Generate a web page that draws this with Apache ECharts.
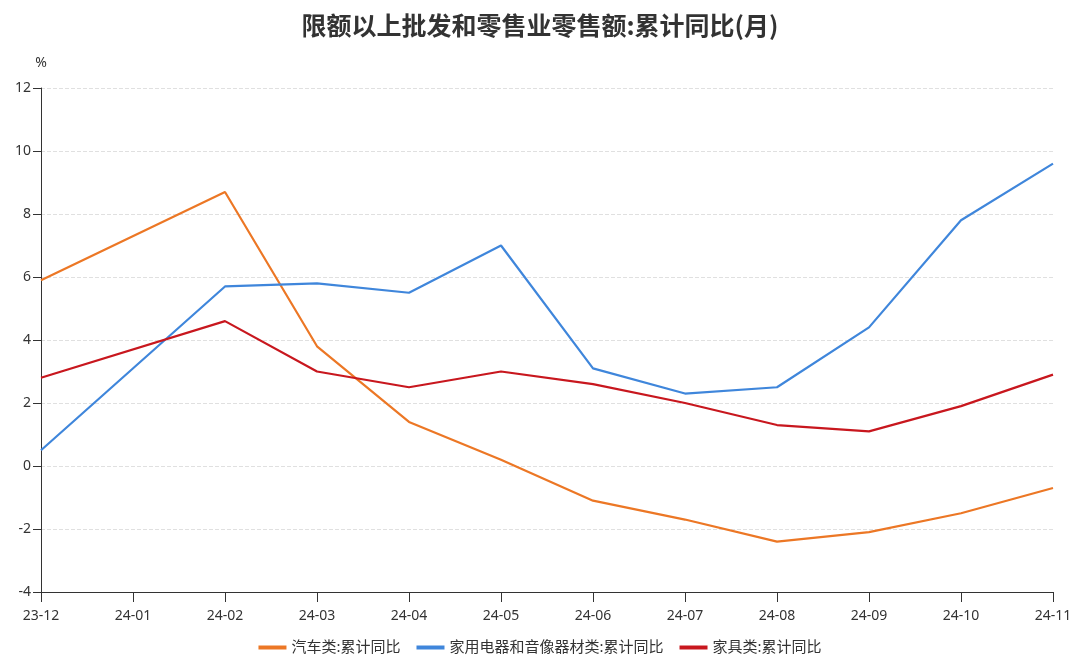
<!DOCTYPE html>
<html>
<head>
<meta charset="utf-8">
<script src="https://cdn.jsdelivr.net/npm/echarts@6/dist/echarts.min.js"></script>
<style>html,body{margin:0;padding:0;background:#fff}#c{width:1080px;height:662px}</style>
</head>
<body>
<div id="c"></div>
<script>
const categories = ['23-12','24-01','24-02','24-03','24-04','24-05','24-06','24-07','24-08','24-09','24-10','24-11'];
const autoValues = [5.9, null, 8.7, 3.8, 1.4, 0.2, -1.1, -1.7, -2.4, -2.1, -1.5, -0.7];
const applianceValues = [0.5, null, 5.7, 5.8, 5.5, 7.0, 3.1, 2.3, 2.5, 4.4, 7.8, 9.6];
const furnitureValues = [2.8, null, 4.6, 3.0, 2.5, 3.0, 2.6, 2.0, 1.3, 1.1, 1.9, 2.9];
const seriesNames = ['汽车类:累计同比', '家用电器和音像器材类:累计同比', '家具类:累计同比'];
const titleText = '限额以上批发和零售业零售额:累计同比(月)';

const font = '"Noto Sans", "Noto Sans CJK SC", sans-serif';
const colors = ['#EC7725', '#3F86DB', '#C8171E'];
const chart = echarts.init(document.getElementById('c'));
function mk(name, data, color) {
  return {
    name, type: 'line', data, connectNulls: true, showSymbol: false, symbol: 'none',
    lineStyle: { width: 2.2, color }, itemStyle: { color }
  };
}
chart.setOption({
  animation: false,
  color: colors,
  title: {
    text: titleText, left: 'center', top: 8,
    textStyle: { fontFamily: '"Noto Sans CJK SC", sans-serif', fontSize: 25, fontWeight: 'bold', color: '#333' }
  },
  legend: {
    bottom: 2, itemWidth: 28, itemHeight: 4, itemGap: 16, icon: 'rect',
    textStyle: { fontFamily: font, fontSize: 15, color: '#333' }
  },
  grid: { left: 41, right: 27, top: 88, bottom: 70, containLabel: false },
  xAxis: {
    type: 'category', data: categories, boundaryGap: false,
    axisLine: { onZero: false, lineStyle: { color: '#333' } },
    axisTick: { show: true, alignWithLabel: true, length: 10, lineStyle: { color: '#333' } },
    axisLabel: { fontFamily: font, fontSize: 14, color: '#333', margin: 17, showMaxLabel: true, showMinLabel: true, interval: 0 }
  },
  yAxis: {
    type: 'value', min: -4, max: 12, interval: 2, name: '%',
    nameTextStyle: { fontFamily: font, fontSize: 14, color: '#333', align: 'center' },
    nameGap: 18,
    axisLine: { show: true, lineStyle: { color: '#333' } },
    axisTick: { show: true, length: 8, lineStyle: { color: '#333' } },
    axisLabel: { fontFamily: font, fontSize: 14, color: '#333', margin: 10 },
    splitLine: { show: true, lineStyle: { color: '#e0e0e0', type: 'dashed' } }
  },
  series: [
    mk(seriesNames[0], autoValues, colors[0]),
    mk(seriesNames[1], applianceValues, colors[1]),
    mk(seriesNames[2], furnitureValues, colors[2])
  ]
});
</script>
</body>
</html>
